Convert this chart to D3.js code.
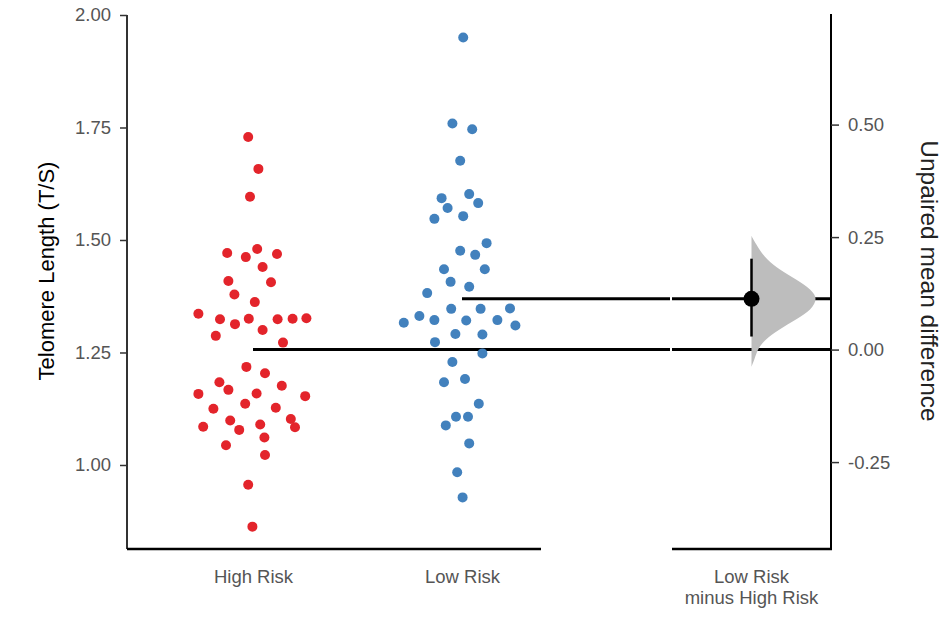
<!DOCTYPE html>
<html>
<head>
<meta charset="utf-8">
<script src="https://cdn.jsdelivr.net/npm/d3@7/dist/d3.min.js"></script>
<style>
  body { margin: 0; background: #fff; }
  text { font-family: "Liberation Sans", Arial, sans-serif; }
</style>
</head>
<body>
<svg id="chart" width="946" height="617"></svg>
<script>
// data
var groups = ["High Risk", "Low Risk"];
var highRisk = [1.729, 1.658, 1.596, 1.471, 1.462, 1.480, 1.469, 1.440, 1.409, 1.406,
  1.379, 1.362, 1.336, 1.324, 1.313, 1.325, 1.324, 1.325, 1.326, 1.287,
  1.300, 1.272, 1.218, 1.204, 1.184, 1.167, 1.176, 1.158, 1.159, 1.153,
  1.136, 1.125, 1.127, 1.099, 1.102, 1.085, 1.078, 1.090, 1.084, 1.061,
  1.044, 1.022, 0.956, 0.863];
var highJitter = [-0.08, 0.09, -0.05, -0.43, -0.12, 0.07, 0.40, 0.16, -0.41, 0.30,
  -0.31, 0.03, -0.91, -0.55, -0.30, -0.07, 0.41, 0.66, 0.89, -0.62,
  0.16, 0.50, -0.11, 0.20, -0.56, -0.41, 0.48, -0.91, 0.06, 0.87,
  -0.13, -0.66, 0.38, -0.38, 0.63, -0.83, -0.23, 0.12, 0.70, 0.19,
  -0.45, 0.20, -0.08, -0.01];
var lowRisk = [1.950, 1.759, 1.746, 1.676, 1.593, 1.602, 1.571, 1.582, 1.547, 1.553,
  1.493, 1.476, 1.467, 1.435, 1.435, 1.407, 1.396, 1.382, 1.347, 1.347,
  1.348, 1.331, 1.316, 1.322, 1.321, 1.322, 1.310, 1.291, 1.290, 1.273,
  1.248, 1.229, 1.184, 1.191, 1.136, 1.107, 1.107, 1.088, 1.048, 0.984,
  0.928];
var lowJitter = [0.02, -0.16, 0.17, -0.03, -0.34, 0.12, -0.24, 0.27, -0.46, 0.02,
  0.41, -0.03, 0.22, -0.30, 0.38, -0.19, 0.12, -0.58, -0.18, 0.31,
  0.80, -0.71, -0.97, -0.46, 0.07, 0.59, 0.89, -0.11, 0.34, -0.45,
  0.34, -0.16, -0.30, 0.05, 0.28, -0.10, 0.10, -0.27, 0.12, -0.08,
  0.01];
var yTicks = [1.00, 1.25, 1.50, 1.75, 2.00];
var diffTicks = [-0.25, 0.00, 0.25, 0.50];
var diffCategory = ["Low Risk", "minus High Risk"];
var diffCI = [0.029, 0.202];
// bootstrap density of the mean difference (relative widths)
var bootDiff =    [0.253, 0.244, 0.222, 0.200, 0.178, 0.156, 0.133, 0.113, 0.089, 0.067, 0.044, 0.022, 0.000, -0.022, -0.038];
var bootDensity = [0.00, 0.03, 0.12, 0.23, 0.42, 0.68, 0.91, 1.00, 0.91, 0.68, 0.41, 0.20, 0.09, 0.045, 0.00];

var colors = { "High Risk": "#e3242b", "Low Risk": "#4281bd" };

var svg = d3.select("#chart");

var meanHigh = d3.mean(highRisk);
var meanLow = d3.mean(lowRisk);
var meanDiff = meanLow - meanHigh;

var y = d3.scaleLinear().domain([0.8133, 2.0]).range([549, 15]);
var yDiff = d3.scaleLinear().domain([0.8133 - meanHigh, 2.0 - meanHigh]).range([549, 15]);

var x = d3.scalePoint().domain(groups).range([253, 462]);
var xDiff = d3.scalePoint().domain([diffCategory.join(" ")]).range([672, 831]).padding(0.5);
var jitter = d3.scaleLinear().domain([-1, 1]).range([-60, 60]);
var densityWidth = d3.scaleLinear().domain([0, 1]).range([0, 66]);

var fmt = function(d) { return d3.format(".2f")(d).replace("\u2212", "-"); };

// left y axis
var leftAxis = svg.append("g")
  .attr("transform", "translate(127,0)")
  .call(d3.axisLeft(y).tickValues(yTicks).tickFormat(fmt).tickSize(7).tickSizeOuter(0).tickPadding(9));
leftAxis.select(".domain").attr("stroke", "#333").attr("stroke-width", 2)
  .attr("d", "M0," + y(2.0) + "V549");
leftAxis.selectAll(".tick line").attr("stroke", "#333").attr("stroke-width", 1.5);
leftAxis.selectAll(".tick text").attr("fill", "#555").style("font-size", "18.5px");

// right y axis
var rightAxis = svg.append("g")
  .attr("transform", "translate(831,0)")
  .call(d3.axisRight(yDiff).tickValues(diffTicks).tickFormat(fmt).tickSize(8).tickSizeOuter(0).tickPadding(9));
rightAxis.select(".domain").attr("stroke", "#000").attr("stroke-width", 2)
  .attr("d", "M0,14V549");
rightAxis.selectAll(".tick line").attr("stroke", "#333").attr("stroke-width", 1.5);
rightAxis.selectAll(".tick text").attr("fill", "#555").style("font-size", "18.5px");

// bottom axes
svg.append("line").attr("x1", 127).attr("x2", 541).attr("y1", 549).attr("y2", 549)
  .attr("stroke", "#000").attr("stroke-width", 2.5);
svg.append("line").attr("x1", 672).attr("x2", 832).attr("y1", 549).attr("y2", 549)
  .attr("stroke", "#000").attr("stroke-width", 2.5);

var bottomAxis = svg.append("g")
  .attr("transform", "translate(0,549)")
  .call(d3.axisBottom(x).tickSize(0).tickPadding(21));
bottomAxis.select(".domain").remove();
bottomAxis.selectAll(".tick text").attr("fill", "#555").style("font-size", "18.5px");

var diffLabel = svg.append("text")
  .attr("x", xDiff(diffCategory.join(" ")))
  .attr("y", 583)
  .attr("text-anchor", "middle")
  .attr("fill", "#555")
  .style("font-size", "18.5px");
diffLabel.selectAll("tspan").data(diffCategory).enter().append("tspan")
  .attr("x", xDiff(diffCategory.join(" ")))
  .attr("dy", function(d, i) { return i === 0 ? 0 : 21; })
  .text(function(d) { return d; });

// axis titles
svg.append("text")
  .attr("transform", "translate(54,271) rotate(-90)")
  .attr("text-anchor", "middle")
  .attr("fill", "#000")
  .style("font-size", "22px")
  .text("Telomere Length (T/S)");
svg.append("text")
  .attr("transform", "translate(921,281) rotate(90)")
  .attr("text-anchor", "middle")
  .attr("fill", "#222")
  .style("font-size", "24.5px")
  .text("Unpaired mean difference");

// mean lines across both panels
var means = [{ group: "High Risk", mean: meanHigh }, { group: "Low Risk", mean: meanLow }];
means.forEach(function(m) {
  svg.append("line")
    .attr("x1", x(m.group)).attr("x2", 670)
    .attr("y1", y(m.mean)).attr("y2", y(m.mean))
    .attr("stroke", "#000").attr("stroke-width", 3);
  svg.append("line")
    .attr("x1", 672).attr("x2", 831)
    .attr("y1", yDiff(m.mean - meanHigh)).attr("y2", yDiff(m.mean - meanHigh))
    .attr("stroke", "#000").attr("stroke-width", 3);
});

// raw data points
function drawGroup(name, values, jit) {
  svg.append("g").selectAll("circle")
    .data(values)
    .enter().append("circle")
    .attr("cx", function(d, i) { return x(name) + jitter(jit[i]); })
    .attr("cy", function(d) { return y(d); })
    .attr("r", 5)
    .attr("fill", colors[name]);
}
drawGroup("High Risk", highRisk, highJitter);
drawGroup("Low Risk", lowRisk, lowJitter);

// bootstrap distribution
var cx = xDiff(diffCategory.join(" "));
var dens = bootDiff.map(function(d, i) { return { diff: d, density: bootDensity[i] }; });
var area = d3.area()
  .curve(d3.curveBasis)
  .y(function(d) { return yDiff(d.diff); })
  .x0(cx)
  .x1(function(d) { return cx + densityWidth(d.density); });
svg.append("path")
  .datum(dens)
  .attr("d", area)
  .attr("fill", "#bdbdbd");

// effect size and CI
svg.append("line")
  .attr("x1", cx).attr("x2", cx)
  .attr("y1", yDiff(diffCI[0])).attr("y2", yDiff(diffCI[1]))
  .attr("stroke", "#000").attr("stroke-width", 2.5);
svg.append("circle")
  .attr("cx", cx).attr("cy", yDiff(meanDiff))
  .attr("r", 8)
  .attr("fill", "#000");
</script>
</body>
</html>
